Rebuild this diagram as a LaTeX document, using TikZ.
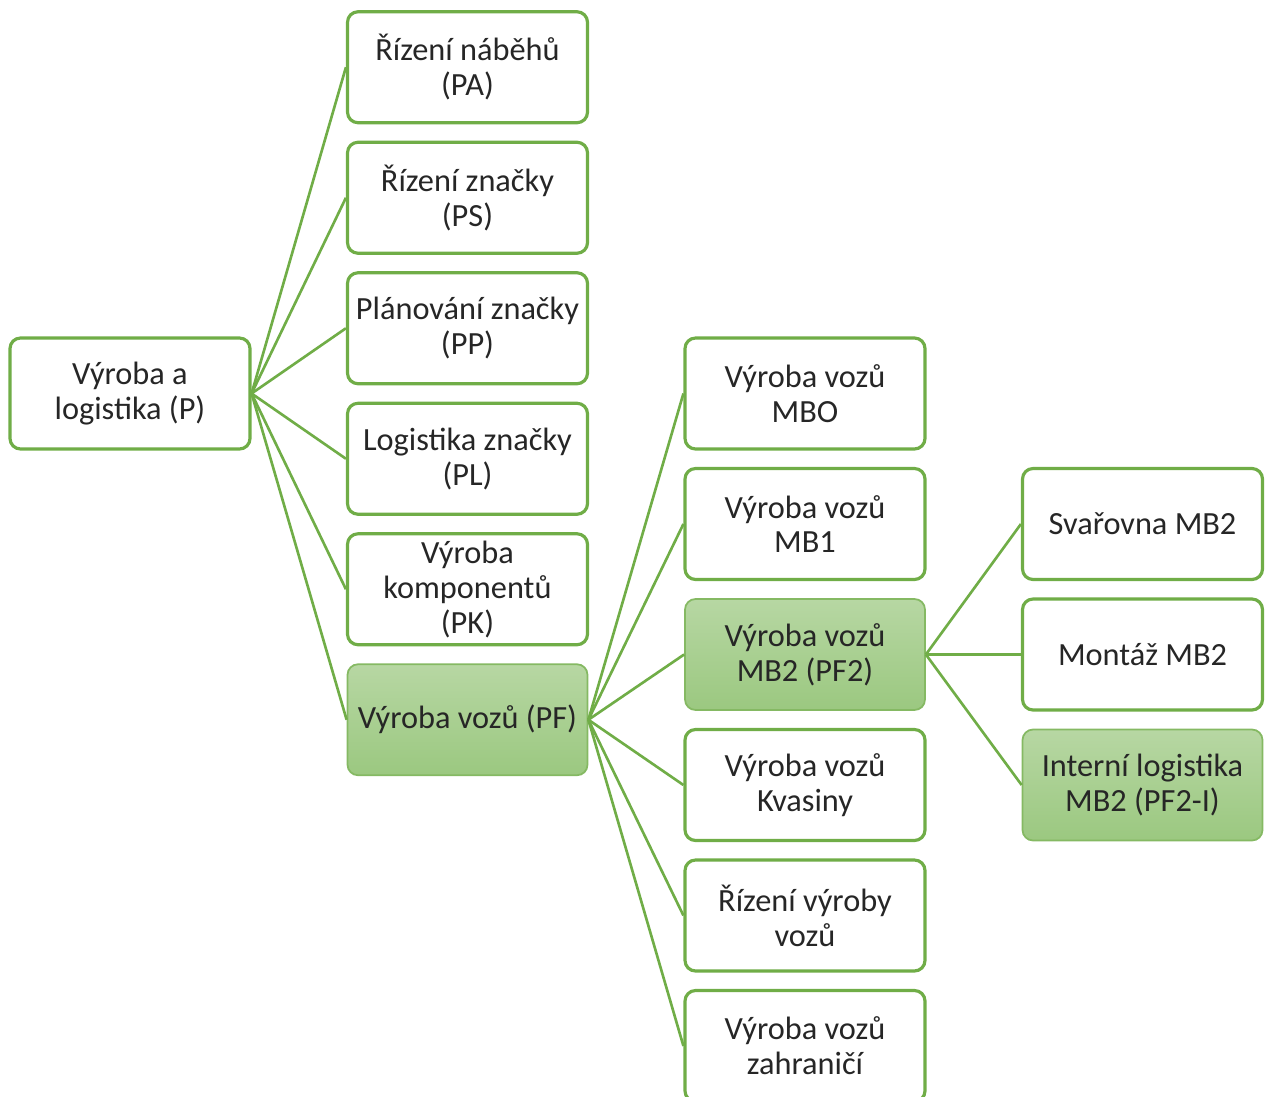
\documentclass[tikz,border=0pt]{standalone}
\usepackage{fontspec}
\setmainfont{Carlito}
\definecolor{orggreen}{RGB}{112,173,71}
\definecolor{filltop}{RGB}{183,215,163}
\definecolor{fillbot}{RGB}{155,200,128}
\tikzset{
	orgnode/.style = {align=center, inner sep=2pt, rectangle, rounded corners=6pt,
		text=black!85, font=\fontsize{18.4}{19.8}\selectfont,
		minimum width=4.8cm, minimum height=2.22cm},
	org_w/.style = {orgnode, draw=orggreen, line width=1.8pt, fill=white},% bilý box
	org_g/.style = {orgnode, draw=orggreen!85, line width=1pt,
		top color=filltop, bottom color=fillbot}% zvýrazněný box
}
\begin{document}
\begin{tikzpicture}[grow'=right,level/.style={sibling distance = 2.61cm,
		level distance = 6.75cm},
	edge from parent/.style={draw=orggreen, line width=1.5pt},
	edge from parent path={(\tikzparentnode.east) -- (\tikzchildnode.west)}]
	\useasboundingbox (0,0) rectangle (25.4,-21.94);
	\node [org_w] (P) at (2.6,-7.87) {Výroba a\\logistika (P)}
	child{ node [org_w] (PA) {Řízení náběhů\\(PA)} }
	child{ node [org_w] (PS) {Řízení značky\\(PS)} }
	child{ node [org_w] (PP) {Plánování značky\\(PP)} }
	child{ node [org_w] (PL) {Logistika značky\\(PL)} }
	child{ node [org_w] (PK) {Výroba\\komponentů\\(PK)} }
	child{ node [org_g] (PF) {Výroba vozů (PF)}
		child{ node [org_w] (MBO) {Výroba vozů\\MBO} }
		child{ node [org_w] (MB1) {Výroba vozů\\MB1} }
		child{ node [org_g] (PF2) {Výroba vozů\\MB2 (PF2)}
				child { node [org_w] (SV) {Svařovna MB2} }
				child { node [org_w] (MO) {Montáž MB2} }
				child { node [org_g] (PF2I) {Interní logistika\\MB2 (PF2-I)} }
		}
		child{ node [org_w] (KV) {Výroba vozů\\Kvasiny} }
		child{ node [org_w] (RV) {Řízení výroby\\vozů} }
		child{ node [org_w] (ZA) {Výroba vozů\\zahraničí} }
	}
	; 
\end{tikzpicture}
\end{document}
